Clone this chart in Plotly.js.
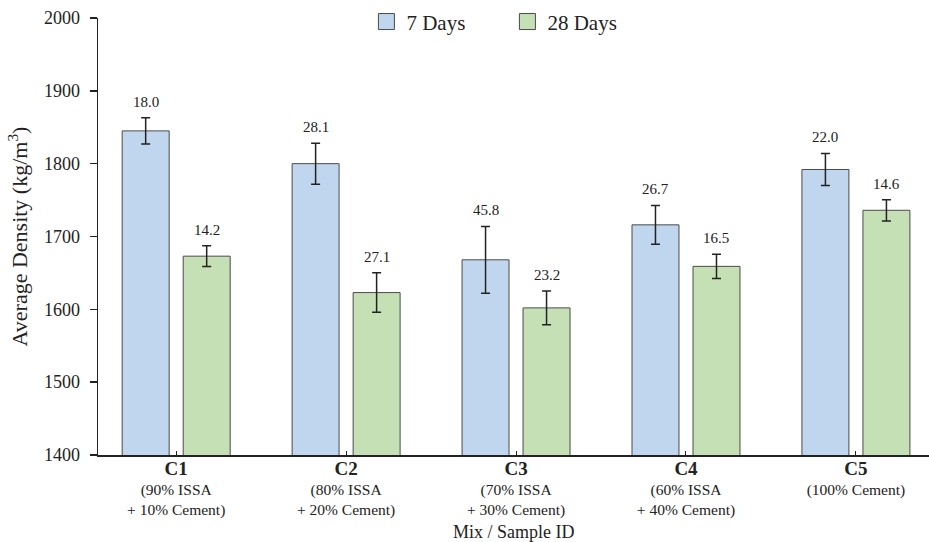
<!DOCTYPE html>
<html>
<head>
<meta charset="utf-8">
<script src="https://cdn.plot.ly/plotly-3.0.1.min.js"></script>
<style>
  html, body { margin: 0; padding: 0; background: #ffffff; }
  #chart { width: 929px; height: 542px; }
</style>
</head>
<body>
<div id="chart"></div>
<script>
// Mix IDs and their compositions
const mixIds = ["C1", "C2", "C3", "C4", "C5"];
const mixNotes = [
  "(90% ISSA<br>+ 10% Cement)",
  "(80% ISSA<br>+ 20% Cement)",
  "(70% ISSA<br>+ 30% Cement)",
  "(60% ISSA<br>+ 40% Cement)",
  "(100% Cement)"
];

// Average density (kg/m³) and standard deviations
const density7 = [1845, 1800, 1668, 1716, 1792];
const sd7 = [18.0, 28.1, 45.8, 26.7, 22.0];
const density28 = [1673, 1623, 1602, 1659, 1736];
const sd28 = [14.2, 27.1, 23.2, 16.5, 14.6];

const seriesNames = ["7 Days", "28 Days"];
const fills = ["#bfd6ee", "#c6e0b5"];

const serif = "Liberation Serif, Times New Roman, serif";
const edge = "#4a4a4a";
const ink = "#222222";

const tickText = mixIds.map((id, i) =>
  "<span style='font-size:19px'><b>" + id + "</b></span><br>" + mixNotes[i]);

function errorBars(arr) {
  return { type: "data", array: arr, visible: true, color: ink, thickness: 1.5, width: 4.5 };
}

const traces = [
  {
    type: "bar", name: seriesNames[0], x: mixIds, y: density7, showlegend: false,
    marker: { color: fills[0], line: { color: edge, width: 1 } },
    error_y: errorBars(sd7)
  },
  {
    type: "bar", name: seriesNames[1], x: mixIds, y: density28, showlegend: false,
    marker: { color: fills[1], line: { color: edge, width: 1 } },
    error_y: errorBars(sd28)
  },
  // legend keys with larger square swatches
  ...seriesNames.map((nm, k) => ({
    type: "scatter", mode: "markers", name: nm, x: [null], y: [null],
    marker: { symbol: "square", size: 16, color: fills[k], line: { color: edge, width: 1 } }
  }))
];

// Standard-deviation labels above each error bar
const annotations = [];
mixIds.forEach((id, i) => {
  annotations.push({
    x: id, y: density7[i] + sd7[i], xref: "x", yref: "y",
    text: sd7[i].toFixed(1), showarrow: false, yanchor: "bottom",
    xshift: -30.5, yshift: 6, font: { family: serif, size: 15, color: ink }
  });
  annotations.push({
    x: id, y: density28[i] + sd28[i], xref: "x", yref: "y",
    text: sd28[i].toFixed(1), showarrow: false, yanchor: "bottom",
    xshift: 30.5, yshift: 6, font: { family: serif, size: 15, color: ink }
  });
});

// x-axis title placed under the two-line category notes
annotations.push({
  xref: "paper", yref: "paper", x: 0.5, y: -0.176, yanchor: "middle",
  text: "Mix / Sample ID", showarrow: false,
  font: { family: serif, size: 18, color: ink }
});

const layout = {
  width: 929, height: 542,
  paper_bgcolor: "#ffffff", plot_bgcolor: "#ffffff",
  margin: { l: 98, r: 0, t: 18, b: 87 },
  font: { family: serif, color: ink },
  barmode: "group",
  bargap: 0.282,
  bargroupgap: 0.23,
  showlegend: true,
  legend: {
    orientation: "h", x: 0.323, xanchor: "left", y: 1.038, yanchor: "top",
    font: { family: serif, size: 21, color: ink },
    bgcolor: "rgba(0,0,0,0)", itemwidth: 30, traceorder: "normal",
    entrywidth: 96
  },
  xaxis: {
    range: [-0.46, 4.43],
    tickmode: "array", tickvals: mixIds, ticktext: tickText,
    ticks: "inside", ticklen: 4, tickcolor: ink, tickwidth: 1,
    showline: true, linecolor: ink, linewidth: 1.5,
    showgrid: false, zeroline: false,
    tickfont: { family: serif, size: 15.5, color: ink }
  },
  yaxis: {
    range: [1400, 2000],
    tickvals: [1400, 1500, 1600, 1700, 1800, 1900, 2000],
    ticks: "outside", ticklen: 7, tickcolor: ink, tickwidth: 1.5,
    ticklabelstandoff: 6,
    showline: true, linecolor: ink, linewidth: 1.5,
    showgrid: false, zeroline: false,
    tickfont: { family: serif, size: 18, color: ink },
    title: { text: "Average Density (kg/m<sup>3</sup>)", font: { family: serif, size: 22, color: ink }, standoff: 10 }
  },
  shapes: [
    // short extension of the baseline to the left of the y axis
    { type: "line", xref: "paper", yref: "paper", x0: -0.007, x1: 0, y0: 0, y1: 0,
      line: { color: ink, width: 1.5 } }
  ],
  annotations: annotations
};

Plotly.newPlot("chart", traces, layout, { displayModeBar: false, staticPlot: true });
</script>
</body>
</html>
